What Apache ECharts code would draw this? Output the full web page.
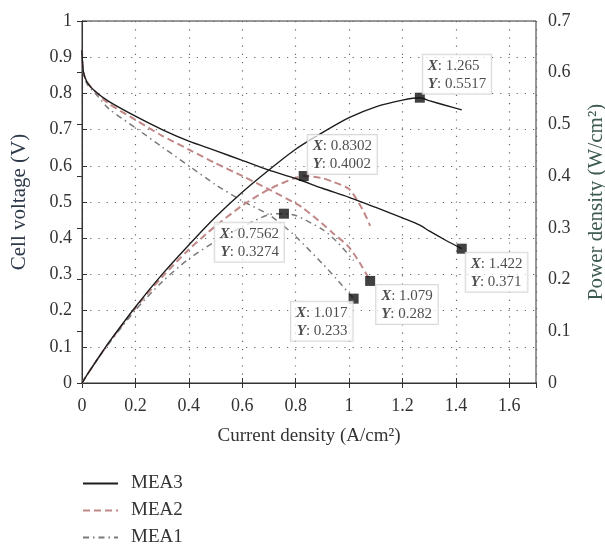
<!DOCTYPE html>
<html>
<head>
<meta charset="utf-8">
<script src="https://cdn.jsdelivr.net/npm/echarts@6/dist/echarts.min.js"></script>
<style>
  html, body { margin: 0; padding: 0; background: #fff; }
  #chart { width: 605px; height: 544px; }
</style>
</head>
<body>
<div id="chart"></div>
<script>
// polarization + power curves
const currentMEA3 = [0, 0.005, 0.02, 0.05, 0.1, 0.2, 0.3, 0.4, 0.5, 0.6, 0.7, 0.8, 0.9, 1.0, 1.1, 1.2, 1.265, 1.3, 1.36, 1.422]
const voltageMEA3 = [0.92, 0.86, 0.83, 0.805, 0.778, 0.737, 0.70, 0.668, 0.642, 0.615, 0.588, 0.565, 0.538, 0.513, 0.485, 0.456, 0.436, 0.42, 0.395, 0.371]
const powerMEA3 = [0, 0.0043, 0.0166, 0.04, 0.078, 0.147, 0.21, 0.267, 0.321, 0.369, 0.412, 0.452, 0.484, 0.513, 0.534, 0.547, 0.5517, 0.546, 0.537, 0.528]

const currentMEA2 = [0, 0.005, 0.02, 0.05, 0.1, 0.2, 0.3, 0.4, 0.5, 0.6, 0.7, 0.8, 0.8302, 0.9, 0.94, 1.0, 1.05, 1.079]
const voltageMEA2 = [0.92, 0.86, 0.83, 0.805, 0.772, 0.727, 0.683, 0.645, 0.607, 0.572, 0.535, 0.496, 0.482, 0.44, 0.414, 0.375, 0.32, 0.282]
const powerMEA2 = [0, 0.0043, 0.0166, 0.04, 0.077, 0.145, 0.205, 0.258, 0.3035, 0.343, 0.3745, 0.397, 0.4002, 0.396, 0.389, 0.375, 0.336, 0.304]

const currentMEA1 = [0, 0.005, 0.02, 0.05, 0.1, 0.2, 0.3, 0.4, 0.5, 0.6, 0.7, 0.7562, 0.8, 0.9, 0.95, 1.017]
const voltageMEA1 = [0.92, 0.855, 0.825, 0.8, 0.758, 0.705, 0.652, 0.6, 0.548, 0.503, 0.465, 0.433, 0.405, 0.33, 0.29, 0.233]
const powerMEA1 = [0, 0.0043, 0.0165, 0.04, 0.0758, 0.141, 0.1956, 0.24, 0.274, 0.302, 0.3255, 0.3274, 0.324, 0.297, 0.2755, 0.237]

// data tips: power peaks (right axis) and last voltage points (left axis)
const peakI = [1.265, 0.8302, 0.7562]
const peakP = [0.5517, 0.4002, 0.3274]
const endI = [1.422, 1.079, 1.017]
const endV = [0.371, 0.282, 0.233]

const seriesNames = ['MEA3', 'MEA2', 'MEA1']

const FONT = "'Liberation Serif', 'DejaVu Serif', serif"

function pairs(xs, ys) {
  return xs.map((x, i) => [x, ys[i]])
}

const styles = {
  MEA3: { color: '#1c1c1c', width: 1.4, type: 'solid' },
  MEA2: { color: '#c28787', width: 2, type: [7, 4] },
  MEA1: { color: '#7a7a7a', width: 1.5, type: [6, 4, 1.5, 4] },
}

function lineSeries(name, xs, ys, axis) {
  return {
    name,
    type: 'line',
    yAxisIndex: axis,
    data: pairs(xs, ys),
    smooth: 0.25,
    symbol: 'none',
    lineStyle: { ...styles[name] },
    itemStyle: { color: styles[name].color },
    z: name === 'MEA3' ? 5 : 4,
  }
}

const tipLabel = {
  show: true,
  formatter: (p) => `{b|X}: ${p.value[0]}\n{b|Y}: ${p.value[1]}`,
  fontFamily: FONT,
  fontSize: 15,
  lineHeight: 18,
  color: '#222',
  backgroundColor: 'rgba(255,255,255,0.9)',
  borderColor: '#cfcfcf',
  borderWidth: 1,
  padding: [2, 5, 1, 5],
  rich: {
    b: { fontFamily: FONT, fontSize: 15, fontWeight: 'bold', fontStyle: 'italic', color: '#222' },
  },
}

// label placement for each tip
const peakPos = [
  { position: [8, -38], align: 'left' },
  { position: [9, -36], align: 'left' },
  { position: [5, 14], align: 'right' },
]
const endPos = [
  { position: [9, 9], align: 'left' },
  { position: [11, 9], align: 'left' },
  { position: [4, 8], align: 'right' },
]

function tipSeries(xs, ys, pos, axis) {
  return {
    name: 'tips' + axis,
    type: 'scatter',
    yAxisIndex: axis,
    symbol: 'rect',
    symbolSize: 10,
    itemStyle: { color: '#111' },
    z: 10,
    data: xs.map((x, i) => ({
      value: [x, ys[i]],
      label: { ...tipLabel, position: pos[i].position, align: pos[i].align },
    })),
    label: tipLabel,
  }
}

const chart = echarts.init(document.getElementById('chart'))

const tickLabel = { fontFamily: FONT, fontSize: 18, color: '#333' }
const splitDots = { show: true, lineStyle: { type: [1.2, 7], color: '#666', width: 1.2 } }
const tickIn = { show: true, inside: true, length: 5, lineStyle: { color: '#333' } }

chart.setOption({
  animation: false,
  textStyle: { fontFamily: FONT },
  grid: {
    left: 82, right: 69, top: 21, bottom: 161,
    outerBoundsMode: 'none',
    show: true, borderColor: '#333', borderWidth: 1, backgroundColor: 'transparent',
  },
  legend: {
    data: seriesNames,
    orient: 'vertical',
    left: 82,
    top: 474,
    height: 90,
    padding: 0,
    itemWidth: 35,
    itemHeight: 14,
    itemGap: 8,
    itemStyle: { opacity: 0 },
    textStyle: { fontFamily: FONT, fontSize: 19, color: '#333', padding: [0, 0, 0, 8] },
  },
  xAxis: [
    {
      type: 'value',
      min: 0,
      max: 1.7,
      interval: 0.2,
      name: 'Current density (A/cm²)',
      nameLocation: 'middle',
      nameGap: 44,
      nameTextStyle: { fontFamily: FONT, fontSize: 19, color: '#333' },
      axisLine: { show: true, lineStyle: { color: '#333' } },
      axisTick: tickIn,
      axisLabel: { ...tickLabel, margin: 14, showMaxLabel: false },
      splitLine: splitDots,
    },
    {
      type: 'value',
      position: 'top',
      min: 0,
      max: 1.7,
      interval: 0.2,
      axisLine: { show: true, lineStyle: { color: '#333' } },
      axisTick: tickIn,
      axisLabel: { show: false },
      splitLine: { show: false },
    },
  ],
  yAxis: [
    {
      type: 'value',
      min: 0,
      max: 1,
      interval: 0.1,
      name: 'Cell voltage (V)',
      nameLocation: 'middle',
      nameGap: 52,
      nameTextStyle: { fontFamily: FONT, fontSize: 21, color: '#2f3a4a' },
      axisLine: { show: true, lineStyle: { color: '#333' } },
      axisTick: tickIn,
      axisLabel: { ...tickLabel, margin: 10 },
      splitLine: splitDots,
    },
    {
      type: 'value',
      min: 0,
      max: 0.7,
      interval: 0.1,
      position: 'right',
      name: 'Power density (W/cm²)',
      nameLocation: 'middle',
      nameRotate: 90,
      nameGap: 50,
      nameTextStyle: { fontFamily: FONT, fontSize: 21, color: '#3d5a4f' },
      axisLine: { show: true, lineStyle: { color: '#333' } },
      axisTick: tickIn,
      axisLabel: { ...tickLabel, margin: 12 },
      splitLine: { show: false },
    },
  ],
  series: [
    lineSeries('MEA3', currentMEA3, voltageMEA3, 0),
    lineSeries('MEA2', currentMEA2, voltageMEA2, 0),
    lineSeries('MEA1', currentMEA1, voltageMEA1, 0),
    lineSeries('MEA3', currentMEA3, powerMEA3, 1),
    lineSeries('MEA2', currentMEA2, powerMEA2, 1),
    lineSeries('MEA1', currentMEA1, powerMEA1, 1),
    tipSeries(peakI, peakP, peakPos, 1),
    tipSeries(endI, endV, endPos, 0),
  ],
})
</script>
</body>
</html>
